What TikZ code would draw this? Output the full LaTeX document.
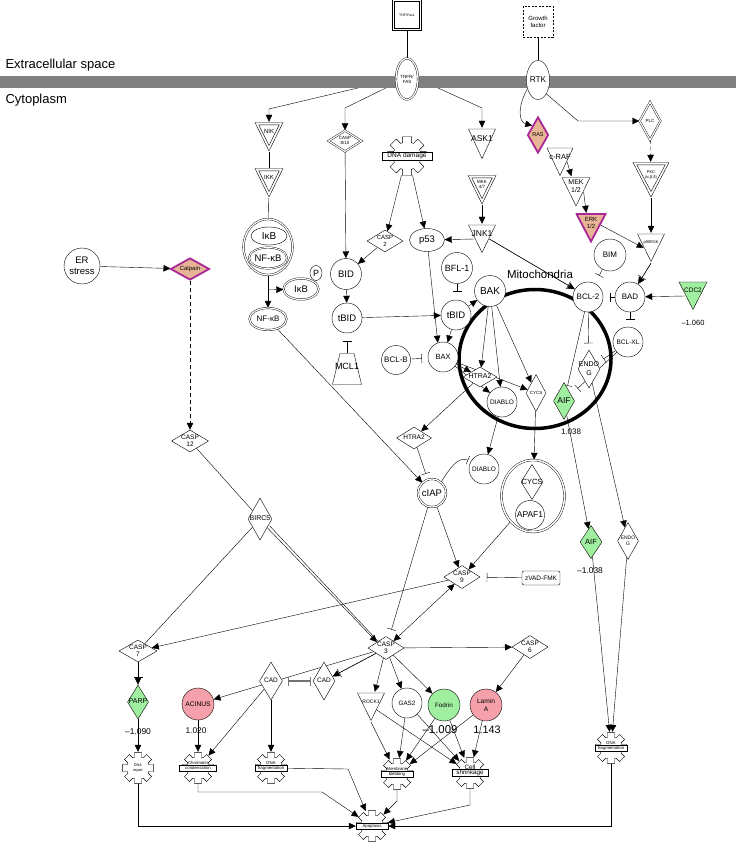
\documentclass[tikz,border=0pt]{standalone}
\usepackage{fontspec}
\setmainfont{Liberation Sans}
\usetikzlibrary{
    arrows.meta,      % arrow tips
    shapes.geometric, % diamond, ellipse
    calc,             % points on triangle sides
    positioning
}

\definecolor{hlmag}{RGB}{170,40,150}
\definecolor{rasfill}{RGB}{232,180,150}
\definecolor{dngreen}{RGB}{160,238,160}
\definecolor{upred}{RGB}{245,160,170}
\definecolor{membgray}{RGB}{128,128,128}

\pgfdeclarelayer{edges}
\pgfdeclarelayer{memb}
\pgfsetlayers{edges,memb,main}

\newcommand{\fsz}[2]{\fontsize{#1}{#2}\selectfont}
% zero size text box, centred on the node
\newcommand{\ctr}[1]{\makebox[0pt]{\raisebox{-.3em}[0pt][0pt]{\begin{tabular}{@{}c@{}}#1\end{tabular}}}}
% gear outline round a node, #2 = outer radius
\newcommand{\gearshape}[2]{%
  \pgfmathsetmacro{\gearri}{0.7*#2}%
  \pgfmathsetmacro{\gearao}{asin(0.22)}%
  \pgfmathsetmacro{\gearai}{asin(0.22*#2/\gearri)}%
  \draw[fill=white, shift={(#1.center)}] (-\gearai:\gearri)
    \foreach \a in {0,45,...,315}{ -- (\a-\gearai:\gearri) -- (\a-\gearao:#2)
      -- (\a+\gearao:#2) -- (\a+\gearai:\gearri) -- (\a+22.5:\gearri)} -- cycle;
}

\begin{document}
\begin{tikzpicture}[x=1pt, y=-1pt, line width=.6pt,
    >={Triangle[length=7pt,width=6.5pt]},
    every node/.style={font=\fsz{7}{8.5}},
    act/.style={->},
    inh/.style={-{Bar[width=9pt]}},
    actinh/.style={->, postaction={draw, inh, shorten >=7.5pt}},
    both/.style={<->},
    inhboth/.style={arrows={Bar[width=9pt]-Bar[width=9pt]}, draw=black!55, line width=1.1pt},
    circ/.style={circle, draw, fill=white, inner sep=0pt, minimum size=30, align=center},
    oval/.style={ellipse, draw, fill=white, inner sep=0pt, align=center},
    dia/.style={diamond, draw, fill=white, inner sep=0pt},
    hl/.style={draw=hlmag, line width=1.8pt, fill=rasfill},
    tri/.style={rectangle, inner sep=0pt, minimum width=29, minimum height=30,
        text depth=11pt, align=center,
        path picture={\draw[#1] ([xshift=1pt,yshift=-1pt]path picture bounding box.north west)
            -- ([xshift=-1pt,yshift=-1pt]path picture bounding box.north east)
            -- ([yshift=1.5pt]path picture bounding box.south) -- cycle;}},
    tri/.default={fill=white},
    dtri/.style={tri, path picture={
        \draw[fill=white] ([xshift=.5pt,yshift=-.5pt]path picture bounding box.north west)
            -- ([xshift=-.5pt,yshift=-.5pt]path picture bounding box.north east)
            -- ([yshift=1pt]path picture bounding box.south) -- cycle;
        \draw ([xshift=4.3pt,yshift=-2.9pt]path picture bounding box.north west)
            -- ([xshift=-4.3pt,yshift=-2.9pt]path picture bounding box.north east)
            -- ([yshift=6.5pt]path picture bounding box.south) -- cycle;}},
    trap/.style={rectangle, inner sep=0pt, minimum width=30, minimum height=32, text height=2pt,
        path picture={\draw[fill=white] ([xshift=8pt,yshift=-.5pt]path picture bounding box.north west)
            -- ([xshift=-8pt,yshift=-.5pt]path picture bounding box.north east)
            -- ([xshift=-.5pt,yshift=.5pt]path picture bounding box.south east)
            -- ([xshift=.5pt,yshift=.5pt]path picture bounding box.south west) -- cycle;}},
    gearspot/.style={circle, inner sep=0pt, minimum size=#1},
    glbl/.style={rectangle, draw, fill=white, inner sep=.4pt, minimum width=#1,
        minimum height=6.5, font=\fsz{4.3}{5}, label distance=.3pt},
    gcap/.style={inner sep=0pt, font=\fsz{4.3}{5}},
    val/.style={inner sep=0pt}
]
\useasboundingbox (0,0) rectangle (736,842);

% membrane
\begin{pgfonlayer}{memb}
\fill[membgray] (0,76) rectangle (736,88);
\end{pgfonlayer}
\node[anchor=west, font=\fsz{13}{15}] (ecs) at (2,65) {Extracellular space};
\node[anchor=west, font=\fsz{13}{15}] (cyto) at (2,100) {Cytoplasm};

% receptors
\node[rectangle, draw, fill=white, double, double distance=1.3pt, minimum width=27,
    minimum height=29, inner sep=0pt, font=\fsz{3.5}{4}] (tnfl) at (407,15) {TNF/FasL};
\node[oval, double, double distance=1.3pt, minimum width=22, minimum height=41,
    font=\fsz{4.5}{5}] (tnfr) at (407,79) {TNFR/\\FAS};
\node[rectangle, draw, dash pattern=on 2pt off 1.5pt, fill=white, minimum width=30,
    minimum height=31, inner sep=0pt, align=center, font=\fsz{6}{7.5}] (gf) at (538,22) {Growth\\factor};
\node[oval, minimum width=23, minimum height=39, font=\fsz{8.3}{9}] (rtk) at (538,80) {RTK};

% upper cascade
\node[dtri, font=\fsz{6}{7}] (nik) at (269,137) {NIK};
\node[dtri, font=\fsz{6}{7}] (ikk) at (269,183) {IKK};
\node[dia, double, double distance=1.2pt, minimum width=33, minimum height=21,
    font=\fsz{4.5}{5}] (casp810) at (345,141) {\ctr{CASP\\8/10}};
\node[gearspot=40] (dnadam) at (407,156) {};
\gearshape{dnadam}{20}
\node[glbl=50, minimum height=8, font=\fsz{6.5}{7}] (dnadam-t) at (dnadam) {DNA damage};
\node[tri, minimum height=32, font=\fsz{8.5}{9}] (ask1) at (482,144) {ASK1};
\node[dtri, font=\fsz{4.5}{5}] (mkk) at (482,190) {MKK\\4/7};
\node[tri, font=\fsz{8.5}{9}] (jnk1) at (482,239) {JNK1};
\node[dia, hl, minimum width=21, minimum height=36, font=\fsz{5.5}{6}] (ras) at (538,135) {\ctr{RAS}};
\node[tri, minimum width=28, font=\fsz{7.5}{8}] (craf) at (560,162) {c-RAF};
\node[tri, minimum width=30, minimum height=31, font=\fsz{7}{8}] (mek) at (576,192) {MEK\\1/2};
\node[tri={fill=rasfill, draw=hlmag, line width=1.8pt}, minimum width=31,
    font=\fsz{6}{7}] (erk) at (591,228) {ERK\\1/2};
\node[dia, double, double distance=1.2pt, minimum width=21, minimum height=38,
    font=\fsz{4.5}{5}] (plc) at (650,121) {\ctr{PLC}};
\node[dtri, minimum width=37, minimum height=36, font=\fsz{4}{5}] (pkc) at (651,180) {PKC\\(α,β,δ)};
\node[tri, font=\fsz{4}{5}] (p90) at (651,248) {p90RSK};

% NF-kB branch
\node[oval, double, double distance=1.3pt, minimum width=49, minimum height=56] (ikbnf) at (268,247) {};
\node[oval, minimum width=36, minimum height=18, font=\fsz{10}{11}] (ikb1) at (269,236) {IκB};
\node[oval, double, double distance=1pt, minimum width=35, minimum height=21,
    font=\fsz{9.5}{10}] (nfkb1) at (268,258) {NF-κB};
\node[oval, minimum width=12, minimum height=15, font=\fsz{9}{10}] (pp) at (316,273) {P};
\node[oval, double, double distance=1.2pt, minimum width=35, minimum height=21,
    font=\fsz{9.5}{10}] (ikb2) at (301,289) {IκB};
\node[oval, double, double distance=1.2pt, minimum width=37, minimum height=22,
    font=\fsz{8}{9}] (nfkb2) at (268,319) {NF-κB};

% BID / BCL-2 family
\node[circ, minimum size=31, font=\fsz{9.5}{10}] (bid) at (346,274) {BID};
\node[circ, font=\fsz{9.5}{10}] (tbid1) at (347,318) {tBID};
\node[trap, font=\fsz{9}{10}] (mcl1) at (347,369) {MCL1};
\node[dia, minimum width=36, minimum height=22, font=\fsz{6}{7}] (casp2) at (385,241) {\ctr{CASP\\2}};
\node[oval, minimum width=35, minimum height=23, font=\fsz{9.5}{10}] (p53) at (427,240) {p53};

% mitochondria
\node[ellipse, draw, line width=3.5pt, minimum width=152, minimum height=139, inner sep=0pt] (mito) at (535,359) {};
\node[font=\fsz{11.5}{12}] (mito-l) at (540,274) {Mitochondria};
\node[circ, minimum size=31, font=\fsz{9}{10}] (bfl1) at (457,268) {BFL-1};
\node[circ, minimum size=31, font=\fsz{10}{11}] (bak) at (490,291) {BAK};
\node[circ, font=\fsz{9.5}{10}] (tbid2) at (456,315) {tBID};
\node[circ, font=\fsz{7.5}{8}] (bax) at (443,357) {BAX};
\node[circ, minimum size=29, font=\fsz{8}{9}] (bclb) at (396,360) {BCL-B};
\node[circ, minimum size=32, font=\fsz{8}{9}] (bim) at (610,255) {BIM};
\node[circ, font=\fsz{8}{9}] (bcl2) at (588,297) {BCL-2};
\node[circ, font=\fsz{8}{9}] (bad) at (630,297) {BAD};
\node[tri={fill=dngreen}, minimum width=30, font=\fsz{6.5}{7}] (cdc2) at (693,296) {CDC2};
\node[val, font=\fsz{7.5}{8}] (cdc2-v) at (693,323) {–1.060};
\node[circ, font=\fsz{6.5}{7}] (bclxl) at (628,342) {BCL-XL};
\node[dia, minimum width=34, minimum height=20, font=\fsz{7}{8}] (htra2m) at (480,377) {\ctr{HTRA2}};
\node[circ, font=\fsz{6.5}{7}] (diablom) at (502,402) {DIABLO};
\node[dia, minimum width=20, minimum height=37, font=\fsz{4.5}{5}] (cycsm) at (536,393) {\ctr{CYCS}};
\node[dia, fill=dngreen, minimum width=21, minimum height=37, font=\fsz{8.5}{9}] (aifm) at (564,401) {\ctr{AIF}};
\node[val, font=\fsz{8}{9}] (aifm-v) at (571,432) {1.038};
\node[dia, minimum width=22, minimum height=38, font=\fsz{7}{8.5}] (endogm) at (589,369) {\ctr{ENDO\\G}};

% released factors
\node[dia, minimum width=35, minimum height=22, font=\fsz{6.5}{7}] (htra2c) at (414,438) {\ctr{HTRA2}};
\node[circ, font=\fsz{6.5}{7}] (diabloc) at (484,469) {DIABLO};
\node[oval, double, double distance=1.5pt, minimum width=63, minimum height=72] (cyapaf) at (533,496) {};
\node[dia, minimum width=22, minimum height=35, font=\fsz{7.5}{8}] (cycsc) at (532,482) {\ctr{CYCS}};
\node[circ, minimum size=29, font=\fsz{8.5}{9}] (apaf1) at (530,515) {APAF1};
\node[circ, double, double distance=1.3pt, minimum size=28, font=\fsz{9.5}{10}] (ciap) at (432,493) {cIAP};
\node[dia, minimum width=36, minimum height=23, font=\fsz{6.5}{7.5}] (casp9) at (462,577) {\ctr{CASP\\9}};
\node[rectangle, draw, fill=white, rounded corners=2pt, minimum width=38, minimum height=14,
    inner sep=0pt, font=\fsz{6.5}{7}] (zvad) at (541,578) {zVAD-FMK};
\node[dia, fill=dngreen, minimum width=22, minimum height=33, font=\fsz{7.5}{8}] (aifc) at (591,542) {\ctr{AIF}};
\node[val, font=\fsz{8.4}{9}] (aifc-v) at (590,571) {–1.038};
\node[dia, minimum width=21, minimum height=37, font=\fsz{5}{6}] (endogc) at (628,541) {\ctr{ENDO\\G}};

% ER stress branch
\node[circ, minimum size=36, font=\fsz{9.5}{11.5}] (er) at (82,266) {ER\\stress};
\node[dia, hl, minimum width=39, minimum height=22, font=\fsz{6}{7}] (calpain) at (190,269) {\ctr{Calpain}};
\node[dia, minimum width=37, minimum height=22, font=\fsz{6.5}{7.5}] (casp12) at (190,441) {\ctr{CASP\\12}};
\node[dia, minimum width=24, minimum height=42, font=\fsz{7}{8}] (birc5) at (260,519) {\ctr{BIRC5}};

% executioner caspases and substrates
\node[dia, minimum width=38, minimum height=22, font=\fsz{6.5}{7.5}] (casp7) at (138,651) {\ctr{CASP\\7}};
\node[dia, minimum width=36, minimum height=23, font=\fsz{6.5}{7.5}] (casp3) at (386,648) {\ctr{CASP\\3}};
\node[dia, minimum width=36, minimum height=23, font=\fsz{6.5}{7.5}] (casp6) at (530,647) {\ctr{CASP\\6}};
\node[dia, fill=dngreen, minimum width=21, minimum height=34, font=\fsz{7}{8}] (parp) at (138,702) {\ctr{PARP}};
\node[val, font=\fsz{8.4}{9}] (parp-v) at (138,732) {–1.090};
\node[circ, fill=upred, minimum size=32, font=\fsz{6.7}{7}] (acinus) at (198,704) {ACINUS};
\node[val, font=\fsz{8.3}{9}] (acinus-v) at (196,731) {1.020};
\node[dia, minimum width=23, minimum height=38, font=\fsz{6.5}{7}] (cad1) at (271,681) {\ctr{CAD}};
\node[dia, minimum width=22, minimum height=38, font=\fsz{6.5}{7}] (cad2) at (324,681) {\ctr{CAD}};
\node[tri, font=\fsz{5}{6}] (rock1) at (371,707) {ROCK1};
\node[circ, font=\fsz{6.3}{7}] (gas2) at (407,703) {GAS2};
\node[circ, fill=dngreen, minimum size=32, font=\fsz{6.3}{7}] (fodrin) at (444,705) {Fodrin};
\node[val, font=\fsz{11.4}{12}] (fodrin-v) at (440,730) {–1.009};
\node[circ, fill=upred, minimum size=32, font=\fsz{6.6}{8}] (lamina) at (486,705) {Lamin\\A};
\node[val, font=\fsz{10.8}{12}] (lamina-v) at (487,730) {1.143};

% cell processes
\node[gearspot=32] (dnarep) at (138,768) {};
\gearshape{dnarep}{16}
\node[align=center, inner sep=0pt, font=\fsz{3.8}{4.5}] (dnarep-t) at (dnarep) {DNA\\repair};
\node[gearspot=32] (chrom) at (198,768) {};
\gearshape{chrom}{16}
\node[glbl=37, label={[gcap]above:Chromatin}] (chrom-t) at (chrom) {condensation};
\node[gearspot=32] (dnafrag1) at (271,768) {};
\gearshape{dnafrag1}{16}
\node[glbl=32, label={[gcap]above:DNA}] (dnafrag1-t) at (dnafrag1) {fragmentation};
\node[gearspot=32] (bleb) at (397,774) {};
\gearshape{bleb}{16}
\node[glbl=32, label={[gcap]above:Membrane}] (bleb-t) at (bleb) {blebbing};
\node[gearspot=32] (shrink) at (470,773) {};
\gearshape{shrink}{16}
\node[glbl=36, font=\fsz{6.3}{7}, label={[gcap, font=\fsz{6.3}{7}]above:Cell}] (shrink-t) at (shrink) {shrinkage};
\node[gearspot=32] (dnafrag2) at (611,748) {};
\gearshape{dnafrag2}{16}
\node[glbl=32, label={[gcap]above:DNA}] (dnafrag2-t) at (dnafrag2) {fragmentation};
\node[gearspot=32] (apo) at (372,826) {};
\gearshape{apo}{16}
\node[glbl=32] (apo-t) at (apo) {Apoptosis};

% bends of connectors
\coordinate (b-nik) at (269,109);
\coordinate (b-casp) at (345,108);
\coordinate (b-ask) at (482,108);
\coordinate (b-plc) at (578,121);
\coordinate (bad-end) at ([yshift=-7pt]bad.south);
\coordinate (bfl1-end) at ([yshift=-8pt]bfl1.south);
\coordinate (b-chrom) at (322,792);
\coordinate (b-frag) at (348,769);
\coordinate (b-bleb) at (397,801);
\coordinate (b-shr) at (470,805);

\begin{pgfonlayer}{edges}
% receptors
\draw (tnfl) -- (tnfr);
\draw (gf) -- (rtk);
\draw[act] (tnfr.west) -- (b-nik) -- (nik);
\draw[act] (tnfr.200) -- (b-casp) -- (casp810);
\draw[act] (tnfr.east) -- (b-ask) -- (ask1);
\draw[act] (rtk.220) .. controls (518,105) and (518,122) .. (ras.north west);
\draw[act] (rtk.south east) -- (b-plc) -- (plc);
\draw[act, dash pattern=on 4pt off 3pt] (plc) -- (pkc);
\draw (nik) -- (ikk);
\draw (ikk) -- (ikbnf);
\draw[act] (ikbnf) -- (nfkb2);
\draw[act] ($(ikbnf.south)!.45!(nfkb2.north)$) -- (ikb2);
% kinases
\draw[act] ($(craf.north east)!.5!(craf.south)$) -- ($(mek.north west)!.35!(mek.north east)$);
\draw[act] ($(mek.north east)!.5!(mek.south)$) -- ($(erk.north west)!.35!(erk.north east)$);
\draw[act] ($(erk.north east)!.4!(erk.south)$) -- ($(p90.north west)!.5!(p90.south)$);
\draw[act] (pkc.south) -- (p90.north);
\draw[actinh] (p90.south) -- (bad);
\draw[act] ($(cdc2.north west)!.5!(cdc2.south)$) -- (bad);
\draw[act] (mkk.south) -- (jnk1.north);
\draw[act] ($(jnk1.north west)!.5!(jnk1.south)$) -- (p53);
\draw[actinh] ($(jnk1.north east)!.5!(jnk1.south)$) -- (bcl2);
% BCL-2 family
\draw[inh, shorten >=9pt] (bim) -- (bcl2);
\draw[inh, shorten >=7pt] (bad) -- (bcl2);
\draw[inh] (bad) -- (bad-end);
\draw[inh] (bfl1) -- (bfl1-end);
\draw[act] (dnadam.254) -- (casp2);
\draw[act] (dnadam.286) -- (p53);
\draw[act] (casp2) -- (bid);
\draw[act] (casp810) -- (bid);
\draw[act] (bid) -- (tbid1);
\draw[inh, shorten >=8pt] (mcl1) -- (tbid1);
\draw[act] (tbid1) -- (tbid2);
\draw[act] (tbid2) -- (bak);
\draw[act] (tbid2) -- (bax);
\draw[act] (p53) -- (bax.110);
\draw[inh, shorten >=6pt] (bclb) -- (bax);
\foreach \t in {htra2m, diablom, cycsm} {
    \draw[act] (bak) -- (\t);
    \draw[act] (bax) -- (\t);
}
\draw[inh, shorten >=2pt] (bcl2) -- (aifm);
\draw[inh, shorten >=7pt] (bcl2) -- (endogm);
\draw[inh, shorten >=8pt] (bclxl) -- (endogm);
\draw[inh, shorten >=9pt] (bclxl) -- (aifm);
% release from mitochondria
\draw[act] (htra2m) -- (htra2c);
\draw[inh, shorten >=6pt] (htra2c) -- (ciap);
\draw[act] (diablom) -- (diabloc);
\draw[inh, shorten >=3pt] (ciap.50) .. controls (450,468) and (458,456) .. (diabloc.150);
\draw[act] (cycsm) -- (cyapaf);
\draw[act] (nfkb2) -- (ciap);
\draw[act] (ciap) -- (casp9);
\draw[inh, shorten >=9pt] (ciap) -- (casp3);
\draw[act] (cyapaf) -- (casp9);
\draw[inh, shorten >=7pt] (zvad) -- (casp9);
\draw[act] (aifm) -- (aifc);
\draw[act] (endogm) -- (endogc);
\draw[act] (aifc) -- (dnafrag2.95);
\draw[act] (endogc) -- (dnafrag2.85);
\draw[act] (dnafrag2) |- (apo);
% ER stress
\draw[act] (er) -- (calpain);
\draw[act, dash pattern=on 4pt off 3pt] (calpain) -- (casp12);
\draw (casp12) -- (birc5);
\draw (birc5) -- (casp7);
\draw[act] (birc5.-50) -- (casp3.north west);
\draw ([xshift=1.5pt]birc5.-40) -- ([xshift=2pt]casp3.north west);
% caspases
\draw[act] (casp9) -- (casp7);
\draw[both] (casp3) -- (casp9);
\draw[act] (casp3) -- (casp6);
\draw[act] (casp6) -- (lamina);
\draw[act] (casp3) -- (rock1);
\draw[act] (casp3) -- (gas2);
\draw[act] (casp3) -- (fodrin);
\draw[actinh] (casp3) -- (cad2);
\draw[act] (casp3) -- (acinus);
\draw[inhboth, shorten <=5.5pt, shorten >=2pt] (cad1) -- (cad2);
\draw[act] (cad1) -- (chrom);
\draw[act] (cad1) -- (dnafrag1);
\draw[act] (acinus) -- (chrom);
\draw[actinh] (casp7) -- (parp);
\draw[act] (parp) -- (dnarep);
\draw[act] (rock1.south) -- (bleb);
\draw[act] ($(rock1.north east)!.6!(rock1.south)$) -- (shrink);
\foreach \s in {gas2, fodrin, lamina} {
    \draw[act] (\s) -- (bleb);
    \draw[act] (\s) -- (shrink);
}
% into apoptosis
\draw[act] (dnarep) |- (apo);
\draw[act] (chrom) |- (b-chrom) -- (apo);
\draw[act] (dnafrag1) -- (b-frag) -- (apo);
\draw[act] (bleb) -- (b-bleb) -- (apo);
\draw[act] (shrink) -- (b-shr) -- (apo);
\end{pgfonlayer}

\end{tikzpicture}
\end{document}
